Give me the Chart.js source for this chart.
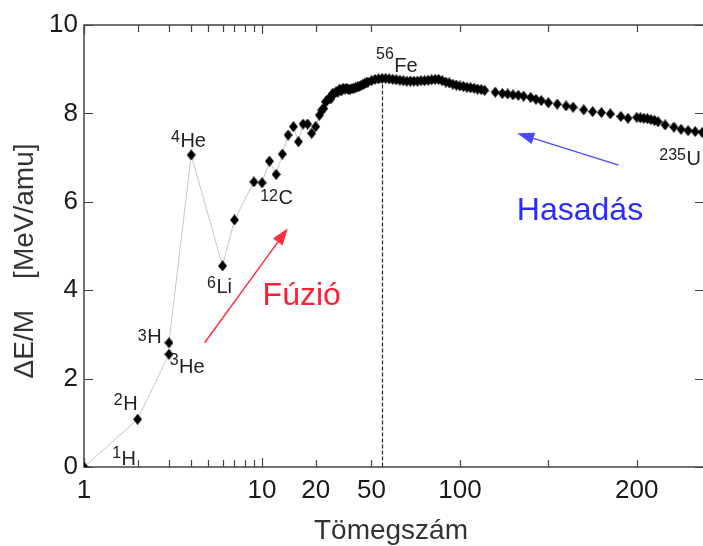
<!DOCTYPE html>
<html>
<head>
<meta charset="utf-8">
<title>Kötési energia</title>
<script src="https://cdn.jsdelivr.net/npm/chart.js@4.4.0/dist/chart.umd.min.js"></script>
<style>
  html, body { margin: 0; padding: 0; background: #fff; overflow: hidden; }
  #wrap { width: 703px; height: 546px; overflow: hidden; }
</style>
</head>
<body>
<div id="wrap"><canvas id="chart" width="710" height="546"></canvas></div>
<script>
// ── Data ────────────────────────────────────────────────────────────────────
const massNumber = [
  1, 2, 3, 3, 4, 6, 7, 9, 10, 11, 12, 13, 14, 15, 16, 17, 18, 19, 20,
  21, 22, 23, 24, 25, 26, 27, 28, 29, 30, 31, 32, 33, 34, 35, 36, 37, 38, 39, 40,
  41, 42, 43, 44, 45, 46, 47, 48, 50, 52, 54, 56, 58, 60, 62, 64, 66, 68, 70,
  72, 74, 76, 78, 80, 82, 84, 86, 88, 90, 92, 94, 96, 98, 100, 102, 104, 106,
  108, 110, 112, 114, 120, 124, 127, 130, 133, 136, 140, 143, 146, 150, 155,
  160, 164, 170, 175, 180, 185, 191, 195, 200, 202, 204, 206, 208, 210, 212,
  216, 221, 225, 229, 233, 237,
];
const energyPerNucleon = [
  0.00, 1.08, 2.55, 2.81, 7.06, 4.55, 5.59, 6.45, 6.43, 6.92, 6.62, 7.08, 7.51, 7.70, 7.36, 7.76, 7.76, 7.55, 7.70,
  7.96, 8.08, 8.11, 8.26, 8.30, 8.34, 8.33, 8.45, 8.45, 8.49, 8.48, 8.55, 8.51, 8.57, 8.55, 8.57, 8.54, 8.55, 8.56, 8.57,
  8.58, 8.60, 8.61, 8.63, 8.65, 8.67, 8.69, 8.71, 8.74, 8.77, 8.78, 8.79, 8.79, 8.78, 8.77, 8.76, 8.75, 8.74, 8.73,
  8.73, 8.73, 8.73, 8.74, 8.74, 8.75, 8.76, 8.77, 8.77, 8.74, 8.71, 8.69, 8.66, 8.64, 8.62, 8.61, 8.59, 8.58,
  8.57, 8.55, 8.54, 8.52, 8.48, 8.45, 8.44, 8.42, 8.41, 8.39, 8.36, 8.32, 8.29, 8.24, 8.21,
  8.17, 8.14, 8.08, 8.04, 8.02, 7.99, 7.93, 7.89, 7.91, 7.90, 7.89, 7.88, 7.86, 7.84, 7.81,
  7.74, 7.69, 7.64, 7.61, 7.59, 7.57,
];

const xTickLabels = [1, 10, 20, 50, 100, 200];
const xMinorTicks = [2, 3, 4, 5, 6, 7, 8, 9, 150];
const yTickValues = [0, 2, 4, 6, 8, 10];
const ironMass = 56;

// nuclide labels: anchor = left/baseline of the element symbol, in data units
const nuclideLabels = [
  { sup: '1',   main: 'H',  a: 1.626, e: 0.045, rise: 7 },
  { sup: '2',   main: 'H',  a: 1.661, e: 1.29,  rise: 5 },
  { sup: '3',   main: 'H',  a: 2.263, e: 2.81,  rise: 2 },
  { sup: '3',   main: 'He', a: 3.42,  e: 2.12,  rise: 8 },
  { sup: '4',   main: 'He', a: 3.48,  e: 7.24,  rise: 5 },
  { sup: '6',   main: 'Li', a: 5.54,  e: 3.94,  rise: 5 },
  { sup: '12',  main: 'C',  a: 12.37, e: 5.95,  rise: 3 },
  { sup: '56',  main: 'Fe', a: 62.9,  e: 8.94,  rise: 13 },
  { sup: '235', main: 'U',  a: 228.1, e: 6.83,  rise: 5 },
];
const processLabels = [
  { text: 'Fúzió',   a: 10.07, e: 3.67, color: '#ff1f35' },
  { text: 'Hasadás', a: 132.2, e: 5.59, color: '#2b2bff' },
];
const arrows = [
  { from: [4.76, 2.81],  to: [13.95, 5.40], color: '#ff3040', width: 1.5 },
  { from: [189.7, 6.83], to: [132.4, 7.55], color: '#4a4aff', width: 1.2 },
];

const FONT = "'Liberation Sans', Arial, sans-serif";

// ── Mixed axis: logarithmic up to ~21, linear above ─────────────────────────
const A0 = 21.4;
const K  = 0.009934;          // decades per mass unit in the linear part
const U0 = Math.log10(A0);
function massToU(a) { return a <= A0 ? Math.log10(a) : U0 + (a - A0) * K; }
function uToMass(u) { return u <= U0 ? Math.pow(10, u) : A0 + (u - U0) / K; }

class MassScale extends Chart.LinearScale {
  buildTicks() { return xTickLabels.map(v => ({ value: v })); }
  configure() {
    super.configure();
    this._uStart = massToU(this.min);
    this._uEnd   = massToU(this.max);
  }
  getPixelForValue(v) {
    return this.getPixelForDecimal((massToU(v) - this._uStart) / (this._uEnd - this._uStart));
  }
  getValueForPixel(p) {
    return uToMass(this._uStart + this.getDecimalForPixel(p) * (this._uEnd - this._uStart));
  }
}
MassScale.id = 'mass';
MassScale.defaults = Chart.LinearScale.defaults;
Chart.register(MassScale);

// ── Diamond marker ──────────────────────────────────────────────────────────
const diamond = document.createElement('canvas');
diamond.width = 9; diamond.height = 11;
(function () {
  const c = diamond.getContext('2d');
  c.fillStyle = '#000';
  c.beginPath();
  c.moveTo(4.5, 0); c.lineTo(9, 5.5); c.lineTo(4.5, 11); c.lineTo(0, 5.5);
  c.closePath(); c.fill();
})();

// ── Frame, inward ticks, dashed Fe line ─────────────────────────────────────
const framePlugin = {
  id: 'frame',
  beforeDatasetsDraw(chart) {
    const { ctx, chartArea: ca, scales: { x, y } } = chart;
    ctx.save();
    ctx.strokeStyle = '#444';
    ctx.lineWidth = 1.5;
    ctx.strokeRect(ca.left, ca.top, ca.right - ca.left, ca.bottom - ca.top);

    ctx.lineWidth = 1.2;
    const xt = xTickLabels.concat(xMinorTicks);
    xt.forEach(v => {
      const px = Math.round(x.getPixelForValue(v)) + 0.5;
      const len = (v === 1 || v === 10) ? 9 : 7;
      ctx.beginPath();
      ctx.moveTo(px, ca.bottom); ctx.lineTo(px, ca.bottom - len);
      ctx.moveTo(px, ca.top);    ctx.lineTo(px, ca.top + len);
      ctx.stroke();
    });
    yTickValues.forEach(v => {
      const py = Math.round(y.getPixelForValue(v)) + 0.5;
      ctx.beginPath();
      ctx.moveTo(ca.left, py);  ctx.lineTo(ca.left + 9, py);
      ctx.moveTo(ca.right, py); ctx.lineTo(ca.right - 9, py);
      ctx.stroke();
    });

    // dashed line at iron
    const fe = energyPerNucleon[massNumber.indexOf(ironMass)];
    const fx = Math.round(x.getPixelForValue(ironMass)) + 0.5;
    ctx.strokeStyle = '#222';
    ctx.lineWidth = 1.2;
    ctx.setLineDash([4, 2]);
    ctx.beginPath();
    ctx.moveTo(fx, y.getPixelForValue(fe));
    ctx.lineTo(fx, ca.bottom);
    ctx.stroke();
    ctx.restore();
  },
};

// ── Labels, arrows, axis titles ─────────────────────────────────────────────
function drawArrow(ctx, x1, y1, x2, y2, color, width) {
  const ang = Math.atan2(y2 - y1, x2 - x1);
  const hl = 17, hw = 6;
  const bx = x2 - hl * Math.cos(ang), by = y2 - hl * Math.sin(ang);
  ctx.strokeStyle = color; ctx.fillStyle = color; ctx.lineWidth = width;
  ctx.beginPath(); ctx.moveTo(x1, y1); ctx.lineTo(bx, by); ctx.stroke();
  ctx.beginPath();
  ctx.moveTo(x2, y2);
  ctx.lineTo(bx + hw * Math.sin(ang), by - hw * Math.cos(ang));
  ctx.lineTo(bx - hw * Math.sin(ang), by + hw * Math.cos(ang));
  ctx.closePath(); ctx.fill();
}

const annotationPlugin = {
  id: 'annotations',
  afterDatasetsDraw(chart) {
    const { ctx, scales: { x, y } } = chart;
    ctx.save();
    ctx.textBaseline = 'alphabetic';

    nuclideLabels.forEach(l => {
      const px = x.getPixelForValue(l.a), py = y.getPixelForValue(l.e);
      ctx.fillStyle = '#222';
      ctx.font = `20px ${FONT}`;
      ctx.textAlign = 'left';
      ctx.fillText(l.main, px, py);
      ctx.font = `16px ${FONT}`;
      ctx.textAlign = 'right';
      ctx.fillText(l.sup, px - 0.5, py - l.rise);
    });

    processLabels.forEach(l => {
      ctx.fillStyle = l.color;
      ctx.font = `32px ${FONT}`;
      ctx.textAlign = 'left';
      ctx.fillText(l.text, x.getPixelForValue(l.a), y.getPixelForValue(l.e));
    });

    arrows.forEach(a => {
      drawArrow(ctx,
        x.getPixelForValue(a.from[0]), y.getPixelForValue(a.from[1]),
        x.getPixelForValue(a.to[0]),   y.getPixelForValue(a.to[1]),
        a.color, a.width);
    });

    // axis titles
    ctx.fillStyle = '#333';
    ctx.font = `28px ${FONT}`;
    ctx.textAlign = 'center';
    ctx.fillText('Tömegszám', 391, 539);

    ctx.translate(33, 261);
    ctx.rotate(-Math.PI / 2);
    ctx.fillText('ΔE/M    [MeV/amu]', 0, 0);
    ctx.restore();
  },
};

// ── Chart ───────────────────────────────────────────────────────────────────
const tickFont = { family: FONT, size: 26 };

new Chart(document.getElementById('chart'), {
  type: 'scatter',
  data: {
    datasets: [{
      data: massNumber.map((a, i) => ({ x: a, y: energyPerNucleon[i] })),
      showLine: true,
      borderColor: '#c6c6c6',
      borderWidth: 1,
      tension: 0,
      pointStyle: diamond,
      pointRadius: 5,
      pointHoverRadius: 5,
    }],
  },
  options: {
    responsive: false, animation: false, devicePixelRatio: 1,
    layout: { padding: { top: 25, right: 5, left: 0, bottom: 0 } },
    plugins: { legend: { display: false }, tooltip: { enabled: false } },
    scales: {
      x: {
        type: 'mass', min: 1, max: 238,
        grid: { display: false, drawTicks: false },
        border: { display: false },
        ticks: {
          autoSkip: false, maxRotation: 0, padding: 8,
          color: '#1a1a1a', font: tickFont,
          callback: v => String(v),
        },
        afterFit: s => { s.height = 79; },
      },
      y: {
        min: 0, max: 10,
        grid: { display: false, drawTicks: false },
        border: { display: false },
        ticks: { stepSize: 2, padding: 6, color: '#1a1a1a', font: tickFont },
        afterFit: s => { s.width = 84; },
      },
    },
  },
  plugins: [framePlugin, annotationPlugin],
});
</script>
</body>
</html>
